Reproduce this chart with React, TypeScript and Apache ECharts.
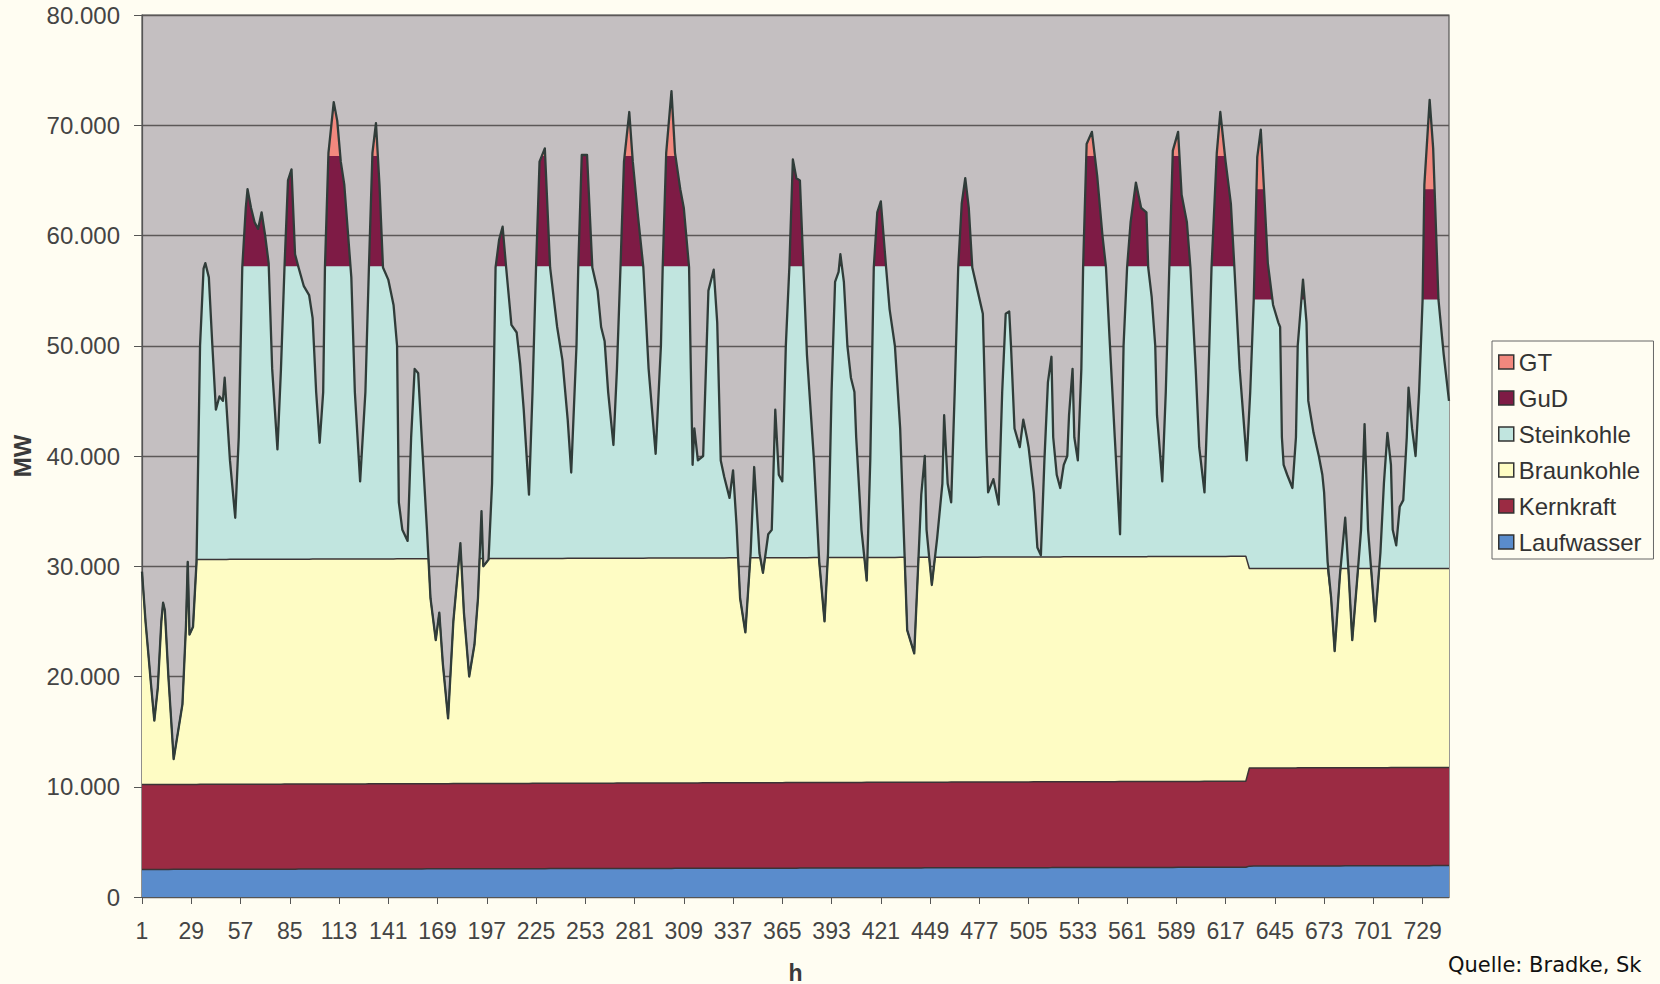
import React, { useEffect, useRef } from "react";
import * as echarts from "echarts";

// Load curve (MW), at hours of the month
const loadHours = [
  1, 3, 6, 8, 10, 12, 13, 14, 16, 19, 21, 24, 26, 27, 28, 30, 32, 34, 36, 37, 39, 41, 43, 45, 47, 48, 49, 51, 54, 56,
  58, 60, 61, 63, 65, 67, 69, 71, 73, 75, 78, 80, 82, 84, 86, 88, 90, 93, 96, 98, 100, 102, 104, 105, 107, 110, 112,
  114, 116, 118, 120, 122, 125, 128, 130, 132, 134, 136, 138, 141, 144, 146, 147, 149, 152, 154, 156, 158, 160, 163,
  165, 168, 170, 172, 175, 178, 182, 184, 187, 190, 192, 194, 195, 198, 200, 202, 204, 206, 208, 211, 214, 216, 218,
  221, 223, 225, 227, 230, 233, 237, 240, 243, 245, 248, 249, 251, 254, 257, 260, 262, 264, 266, 269, 271, 273, 275,
  278, 280, 283, 286, 289, 293, 296, 297, 299, 302, 304, 307, 309, 312, 313, 314, 315, 317, 320, 323, 326, 328, 330,
  332, 335, 337, 339, 341, 344, 347, 349, 352, 354, 357, 359, 361, 363, 365, 367, 369, 371, 373, 375, 377, 379, 383,
  386, 389, 391, 393, 395, 397, 398, 400, 402, 404, 406, 407, 410, 413, 415, 417, 419, 421, 424, 426, 429, 432, 434,
  436, 440, 442, 444, 446, 447, 450, 453, 456, 457, 459, 461, 463, 465, 467, 469, 471, 473, 476, 479, 481, 482, 485,
  488, 490, 492, 494, 495, 497, 500, 502, 504, 505, 508, 510, 512, 514, 516, 518, 519, 521, 523, 525, 527, 528, 530,
  531, 533, 535, 536, 538, 541, 544, 547, 549, 551, 554, 557, 559, 561, 563, 566, 569, 572, 573, 575, 577, 578, 581,
  583, 585, 587, 590, 592, 595, 597, 600, 602, 605, 607, 609, 612, 614, 617, 620, 622, 625, 629, 631, 633, 635, 637,
  639, 641, 644, 647, 648, 649, 650, 652, 655, 657, 658, 661, 663, 664, 667, 670, 672, 673, 675, 677, 679, 682, 685,
  687, 689, 692, 694, 696, 698, 700, 702, 705, 707, 709, 711, 712, 714, 716, 718, 720, 721, 723, 725, 727, 729, 730,
  733, 735, 738, 741, 744,
];
const loadMW = [
  29500, 25000, 19500, 16000, 19000, 25000, 26700, 26000, 20000, 12500, 14500, 17500, 24600, 30400, 23800, 24500,
  30400, 50000, 57000, 57500, 56200, 50000, 44200, 45400, 45000, 47100, 44600, 39600, 34400, 41700,
  57100, 62500, 64200, 62500, 61200, 60600, 62100, 60000, 57500, 47900, 40600, 47900, 57100, 65000, 66000, 58300,
  57100, 55400, 54600, 52500, 45800, 41200, 45800, 57100, 67500, 72100, 70400,
  66700, 64600, 60400, 56200, 45800, 37700, 45800, 57100, 67500, 70200, 64600, 57100, 56000, 53700, 50000, 35800,
  33300, 32300, 41700, 47900, 47500, 41700, 33300,
  27100, 23300, 25800, 21200, 16200, 25000, 32100, 25800, 20000, 22900, 27100, 35000, 30000, 30600, 37500, 57100,
  59600, 60800, 57100, 51900, 51200, 48300, 44200,
  36500, 45800, 57100, 66700, 67900, 57100, 51700, 48700, 43300, 38500, 50000, 57100, 67300, 67300, 57100, 55000,
  51700, 50400, 45800, 41000, 47900, 57100, 66700,
  71200, 66700, 61700, 57100, 47900, 40200, 50000, 57100, 67500, 73100, 67500, 64200, 62500, 57100, 47900, 39200,
  42500, 39600, 40000, 55000, 56900, 52100, 39600,
  38100, 36200, 38700, 33700, 27100, 24000, 31200, 39000, 31200, 29400, 32900, 33300, 44200, 38300, 37700, 50000,
  57100, 66900, 65200, 65000, 57100, 49200, 39600,
  30400, 25000, 31200, 45800, 55800, 56700, 58300, 55800, 50000, 47100, 45800, 41700, 33300, 28700, 39600, 57100,
  62100, 63100, 57100, 53300, 50000, 42500, 33300,
  24200, 22100, 29200, 36500, 40000, 33300, 28300, 32500, 37500, 43700, 37500, 35800, 45800, 57100, 62900, 65200,
  62500, 57100, 55000, 52900, 40800, 36700, 37900,
  35600, 45800, 52900, 53100, 50000, 42500, 40800, 43300, 41700, 40800, 36700, 31700, 31000, 39600, 46700, 49000,
  41700, 38300, 37100, 39200, 40000, 43700, 47900,
  41700, 39600, 47900, 57100, 68300, 69400, 65400, 60000, 57100, 50800, 41700, 32900, 50000, 57100, 61200, 64800,
  62500, 62100, 57100, 54400, 50000, 43700, 37700,
  45800, 57100, 67700, 69400, 63700, 61200, 57100, 47900, 40800, 36700, 45800, 57100, 67500, 71200, 66700, 62900,
  57100, 47900, 39600, 45800, 54200, 67100, 69600,
  63700, 57500, 53700, 52100, 51700, 41700, 39200, 38300, 37100, 41700, 50000, 56000, 52100, 45000, 42100, 40000,
  38300, 36700, 30400, 27100, 22300, 29200, 34400,
  29200, 23300, 29200, 33300, 42900, 33300, 29200, 25000, 31200, 37500, 42100, 39200, 33300, 31900, 35400, 36000,
  41700, 46200, 42500, 40000, 45800, 54200, 64600,
  72300, 67900, 54200, 49200, 45000,
];

// Upper edges (cumulative MW) of the generation layers
const capHours = [1, 628.5, 630.5, 744];
const laufwasserTop = [2500, 2700, 2800, 2850];
const kernkraftTop = [10200, 10500, 11700, 11750];
const braunkohleTop = [30600, 30900, 29800, 29800];
const steinkohleTop = [57200, 57200, 54200, 54200];
const gudTop = [67200, 67200, 64200, 64200];

const xTickLabels = [
  1, 29, 57, 85, 113, 141, 169, 197, 225, 253, 281, 309, 337, 365, 393, 421, 449, 477, 505, 533, 561, 589, 617, 645,
  673, 701, 729,
];

const layerNames = ["GT", "GuD", "Steinkohle", "Braunkohle", "Kernkraft", "Laufwasser"];
const layerColors = ["#f2887e", "#7e1b45", "#c1e5df", "#fefcc4", "#9b2b43", "#5a8ccc"];

const FONT = "'Liberation Sans', Arial, sans-serif";

type Pt = [number, number];

function interp(pts: Pt[], x: number): number {
  if (x <= pts[0][0]) return pts[0][1];
  const last = pts[pts.length - 1];
  if (x >= last[0]) return last[1];
  for (let i = 0; i < pts.length - 1; i++) {
    const a = pts[i];
    const b = pts[i + 1];
    if (x >= a[0] && x <= b[0]) {
      if (b[0] === a[0]) return b[1];
      return a[1] + ((b[1] - a[1]) * (x - a[0])) / (b[0] - a[0]);
    }
  }
  return last[1];
}

// lower envelope of two polylines (exact, with crossing points)
function minPL(a: Pt[], b: Pt[]): Pt[] {
  const xs = Array.from(new Set([...a.map((p) => p[0]), ...b.map((p) => p[0])])).sort((p, q) => p - q);
  const out: Pt[] = [];
  for (let i = 0; i < xs.length; i++) {
    const x = xs[i];
    const va = interp(a, x);
    const vb = interp(b, x);
    out.push([x, Math.min(va, vb)]);
    if (i < xs.length - 1) {
      const x2 = xs[i + 1];
      const d1 = va - vb;
      const d2 = interp(a, x2) - interp(b, x2);
      if (d1 * d2 < 0) {
        const xc = x + (d1 / (d1 - d2)) * (x2 - x);
        out.push([xc, interp(a, xc)]);
      }
    }
  }
  return out;
}

export default function App() {
  const ref = useRef<HTMLDivElement>(null);

  useEffect(() => {
    if (!ref.current) return;
    const chart = echarts.init(ref.current, null, { renderer: "svg" });

    const loadPts: Pt[] = loadHours.map((h, i) => [h, loadMW[i]]);
    const caps: Pt[][] = [gudTop, steinkohleTop, braunkohleTop, kernkraftTop, laufwasserTop].map((arr) =>
      capHours.map((h, i) => [h, arr[i]] as Pt)
    );
    const layerData: Pt[][] = [loadPts, ...caps.map((c) => minPL(loadPts, c))];
    const borderWidths = [0, 0, 0, 1.5, 1.5, 1.5];

    const series: any[] = layerNames.map((name, i) => ({
      name,
      type: "line",
      data: layerData[i],
      symbol: "none",
      showSymbol: false,
      silent: true,
      smooth: false,
      itemStyle: { color: layerColors[i] },
      lineStyle: { width: borderWidths[i], color: "#3b3436" },
      areaStyle: { color: layerColors[i], opacity: 1, origin: "start" },
      z: 2,
    }));
    series.push({
      name: "Last",
      type: "line",
      data: loadPts,
      symbol: "none",
      showSymbol: false,
      silent: true,
      lineStyle: { width: 2.3, color: "#303c39", join: "round" },
      z: 5,
    });

    chart.setOption({
      animation: false,
      backgroundColor: "#fffdf2",
      grid: {
        left: 142,
        right: 211,
        top: 15,
        bottom: 87,
        show: true,
        backgroundColor: "#c4bfc1",
        borderColor: "#555",
        borderWidth: 1.2,
        containLabel: false,
        outerBoundsMode: "none",
      },
      legend: {
        orient: "vertical",
        left: 1492,
        top: 341,
        padding: [9, 12, 5, 6],
        itemGap: 12,
        itemWidth: 15,
        itemHeight: 14,
        borderColor: "#666",
        borderWidth: 1,
        backgroundColor: "#fffdf2",
        selectedMode: false,
        textStyle: { fontFamily: FONT, fontSize: 24, color: "#333", lineHeight: 24 },
        data: layerNames.map((n, i) => ({
          name: n,
          icon: "rect",
          itemStyle: { color: layerColors[i], borderColor: "#333", borderWidth: 1.5 },
        })),
      },
      xAxis: {
        type: "value",
        min: 1,
        max: 744,
        name: "h",
        nameLocation: "middle",
        nameGap: 64,
        nameTextStyle: { fontFamily: FONT, fontSize: 23, fontWeight: "bold", color: "#3a3a3a" },
        axisLine: { show: true, lineStyle: { color: "#555", width: 1.2 } },
        axisTick: { show: true, length: 7, customValues: xTickLabels, lineStyle: { color: "#555" } },
        axisLabel: {
          customValues: xTickLabels,
          margin: 22,
          fontFamily: FONT,
          fontSize: 23,
          color: "#444",
          formatter: (v: number) => String(v),
        },
        splitLine: { show: false },
      },
      yAxis: {
        type: "value",
        min: 0,
        max: 80000,
        interval: 10000,
        name: "MW",
        nameLocation: "middle",
        nameGap: 108,
        nameTextStyle: { fontFamily: FONT, fontSize: 24, fontWeight: "bold", color: "#3a3a3a" },
        axisLine: { show: true, lineStyle: { color: "#555", width: 1.2 } },
        axisTick: { show: true, length: 8, lineStyle: { color: "#555" } },
        axisLabel: {
          margin: 22,
          fontFamily: FONT,
          fontSize: 24,
          color: "#444",
          formatter: (v: number) => (v === 0 ? "0" : `${v / 1000}.000`),
        },
        splitLine: { show: true, lineStyle: { color: "#5c5858", width: 1.4 } },
      },
      series,
      graphic: [
        {
          type: "text",
          left: 1448,
          top: 954,
          style: {
            text: "Quelle: Bradke, Sk",
            font: "21px 'DejaVu Sans', sans-serif",
            fill: "#111",
          },
        },
      ],
    });

    return () => chart.dispose();
  }, []);

  return (
    <div
      ref={ref}
      style={{ position: "fixed", left: 0, top: 0, width: 1660, height: 984, background: "#fffdf2" }}
    />
  );
}
